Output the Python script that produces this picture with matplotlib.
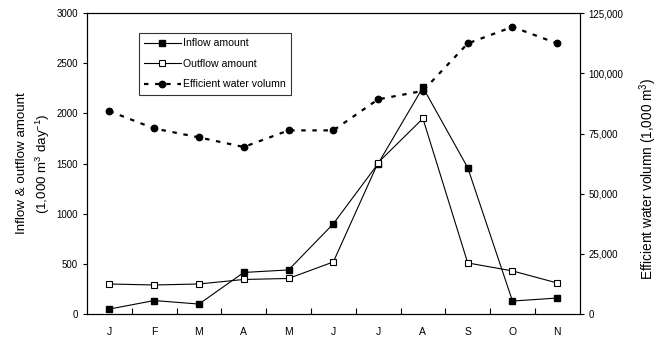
import matplotlib
matplotlib.use("Agg")
import matplotlib.pyplot as plt
import numpy as np

plt.rcParams['font.family'] = ['Liberation Sans', 'DejaVu Sans']
plt.rcParams['mathtext.fontset'] = 'custom'
plt.rcParams['mathtext.rm'] = 'Liberation Sans'

months = ["J", "F", "M", "A", "M", "J", "J", "A", "S", "O", "N"]
inflow = [50, 135, 100, 415, 440, 900, 1500, 2260, 1460, 130, 160]
outflow = [300, 290, 300, 345, 355, 520, 1510, 1950, 510, 430, 310]
volume = [84300, 77100, 73400, 69400, 76300, 76300, 89200, 92700, 112400, 119300, 112400]

x = np.arange(len(months))

fig, ax = plt.subplots(figsize=(6.64, 3.37), dpi=100)
fig.subplots_adjust(left=0.131, right=0.873, top=0.961, bottom=0.068)
ax2 = ax.twinx()

l1, = ax.plot(x, inflow, color='black', lw=0.8, marker='s', ms=4.6,
              mfc='black', mec='black', label='Inflow amount')
l2, = ax.plot(x, outflow, color='black', lw=0.8, marker='s', ms=4.6,
              mfc='white', mec='black', mew=0.8, label='Outflow amount')
l3, = ax2.plot(x, volume, color='black', lw=1.6, ls=(0, (2, 3)), marker='o', ms=4.6,
               mfc='black', label='Efficient water volumn')

ax.set_xlim(-0.5, len(months) - 0.5)
ax.set_ylim(0, 3000)
ax.set_yticks(range(0, 3001, 500))
ax2.set_ylim(0, 125000)
ax2.set_yticks(range(0, 125001, 25000))
ax2.set_yticklabels([f"{v:,}" for v in range(0, 125001, 25000)])

ax.set_xticks(x)
ax.set_xticklabels(months)
ax.set_xticks(np.arange(0.5, len(months) - 1, 1), minor=True)
ax.tick_params(axis='x', which='major', length=0, pad=9, labelsize=7.5)
ax.tick_params(axis='x', which='minor', direction='in', length=4, width=0.8)
ax.tick_params(axis='y', direction='out', length=3, width=0.8, labelsize=7)
ax2.tick_params(axis='y', direction='out', length=3, width=0.8, labelsize=7)

for a in (ax, ax2):
    for s in a.spines.values():
        s.set_linewidth(0.8)

ax.set_ylabel("Inflow & outflow amount\n(1,000 m$^3$ day$^{-1}$)", fontsize=9.6,
              labelpad=3, linespacing=1.45)
ax2.set_ylabel("Efficient water volumn (1,000 m$^3$)", fontsize=9.8, labelpad=10, y=0.45)

leg = ax.legend(handles=[l1, l2, l3], loc='upper left', bbox_to_anchor=(0.105, 0.934),
                fontsize=7.6, frameon=True, fancybox=False, edgecolor='black',
                handlelength=3.5, borderpad=0.5, labelspacing=1.0, handletextpad=0.15,
                borderaxespad=0)
leg.get_frame().set_linewidth(0.8)

fig.savefig("out.png", dpi=100)
